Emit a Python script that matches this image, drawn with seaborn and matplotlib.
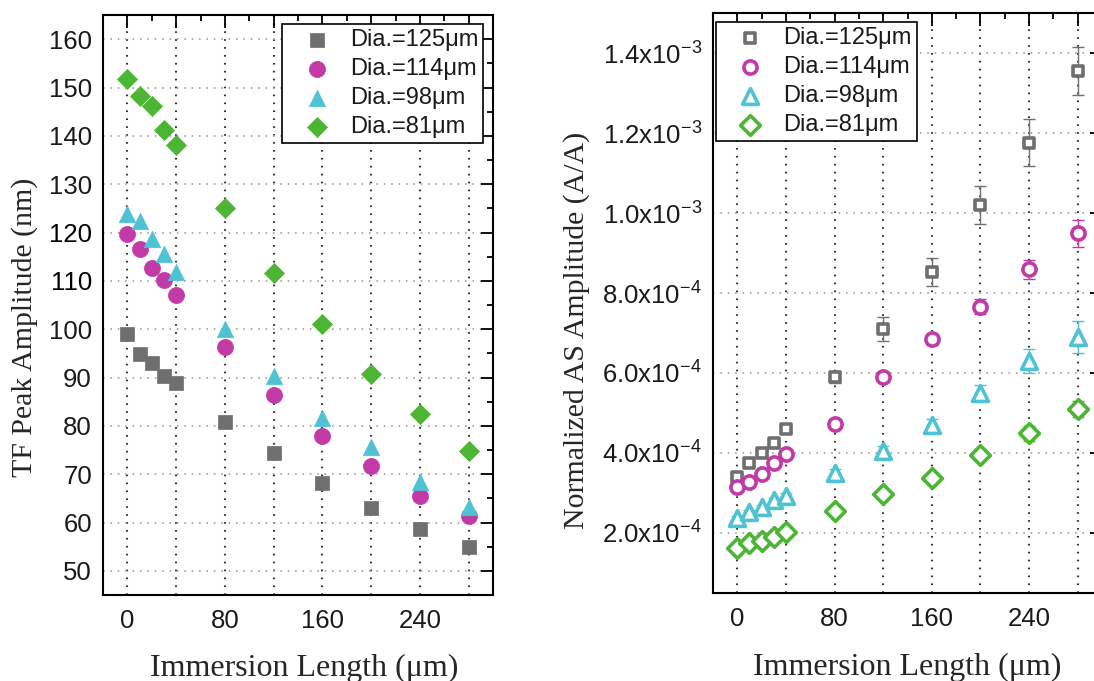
import numpy as np
import matplotlib
matplotlib.use("Agg")
import matplotlib.pyplot as plt
from matplotlib.ticker import MultipleLocator, FuncFormatter
import seaborn as sns

# Immersion lengths (µm) shared by both panels
immersion = [0, 10, 20, 30, 40, 80, 120, 160, 200, 240, 280]
series_labels = ["Dia.=125μm", "Dia.=114μm", "Dia.=98μm", "Dia.=81μm"]

# Tuning-fork peak amplitude (nm)
tf_125 = [99.0, 94.9, 93.0, 90.4, 88.9, 80.8, 74.3, 68.1, 63.1, 58.7, 55.0]
tf_114 = [119.6, 116.6, 112.7, 110.2, 107.1, 96.3, 86.3, 78.0, 71.7, 65.5, 61.4]
tf_98 = [123.8, 122.4, 118.6, 115.5, 111.8, 100.0, 90.4, 81.6, 75.6, 68.3, 63.3]
tf_81 = [151.8, 148.3, 146.1, 141.2, 138.2, 125.0, 111.7, 101.0, 90.8, 82.5, 74.8]

# Normalized AS amplitude (in units of 1e-4) and its uncertainty
AS_UNIT = 1e-4
as_125 = [3.41, 3.74, 3.99, 4.26, 4.59, 5.91, 7.10, 8.53, 10.20, 11.76, 13.56]
as_114 = [3.16, 3.28, 3.48, 3.74, 3.97, 4.73, 5.91, 6.84, 7.66, 8.59, 9.49]
as_98 = [2.37, 2.53, 2.64, 2.83, 2.93, 3.49, 4.06, 4.70, 5.49, 6.31, 6.89]
as_81 = [1.62, 1.76, 1.81, 1.91, 2.03, 2.55, 2.98, 3.38, 3.95, 4.49, 5.09]
err_125 = [0.06, 0.06, 0.07, 0.07, 0.08, 0.15, 0.30, 0.35, 0.48, 0.58, 0.60]
err_114 = [0.05, 0.05, 0.05, 0.06, 0.06, 0.10, 0.12, 0.14, 0.18, 0.23, 0.33]
err_98 = [0.05, 0.05, 0.05, 0.05, 0.06, 0.10, 0.12, 0.15, 0.20, 0.30, 0.40]
err_81 = [0.04, 0.04, 0.04, 0.05, 0.05, 0.08, 0.10, 0.12, 0.15, 0.18, 0.20]

colors = ["#6f6f6f", "#c23aa6", "#4fc3d4", "#4cb533"]
markers = ["s", "o", "^", "D"]

sns.set_style("white")
plt.rcParams["font.family"] = ["Liberation Sans", "DejaVu Sans"]
plt.rcParams["mathtext.fontset"] = "custom"
plt.rcParams["mathtext.rm"] = "Liberation Sans"
plt.rcParams["mathtext.it"] = "Liberation Sans:italic"
plt.rcParams["mathtext.bf"] = "Liberation Sans:bold"

W, H = 1094, 681
fig = plt.figure(figsize=(W / 100, H / 100), dpi=100)
fig.patch.set_facecolor("white")
ax1 = fig.add_axes([103 / W, 1 - 595 / H, 390 / W, 580 / H])
ax2 = fig.add_axes([713 / W, 1 - 593 / H, 389 / W, 580 / H])

# ---- left panel: filled markers ----
tf_series = [tf_125, tf_114, tf_98, tf_81]
left_sizes = [90, 135, 140, 105]
for vals, lab, col, mk, sz in zip(tf_series, series_labels, colors, markers, left_sizes):
    sns.scatterplot(x=immersion, y=vals, marker=mk, s=sz, color=col,
                    edgecolor=col, linewidth=0.5, label=lab, ax=ax1, zorder=3)

# ---- right panel: open markers with error bars ----
as_series = [as_125, as_114, as_98, as_81]
err_series = [err_125, err_114, err_98, err_81]
right_sizes = [60, 90, 130, 100]
for vals, errs, lab, col, mk, sz in zip(as_series, err_series, series_labels,
                                        colors, markers, right_sizes):
    y = np.array(vals) * AS_UNIT
    e = np.array(errs) * AS_UNIT
    ax2.errorbar(immersion, y, yerr=e, fmt="none", ecolor=col, elinewidth=1.0,
                 capsize=4, capthick=1.0, zorder=2)
    sns.scatterplot(x=immersion, y=y, marker=mk, s=sz, facecolor="white",
                    edgecolor=col, linewidth=2.6, label=lab, ax=ax2, zorder=3)


def x_label_fmt(v, pos):
    return f"{v:.0f}" if abs(v % 80) < 1e-6 else ""


def sci_fmt(v, pos):
    if v <= 0:
        return ""
    e = int(np.floor(np.log10(v) + 1e-9))
    m = v / 10 ** e
    return f"{m:.1f}x10$^{{{e}}}$"


for ax in (ax1, ax2):
    ax.set_xlim(-20, 300)
    ax.xaxis.set_major_locator(MultipleLocator(40))
    ax.xaxis.set_minor_locator(MultipleLocator(20))
    ax.xaxis.set_major_formatter(FuncFormatter(x_label_fmt))
    ax.tick_params(which="both", direction="in", top=True, right=True,
                   width=1.3, colors="black", labelsize=18.5)
    ax.tick_params(which="major", length=9)
    ax.tick_params(which="minor", length=4.5)
    ax.tick_params(axis="x", pad=10)
    ax.tick_params(axis="y", pad=8)
    for s in ax.spines.values():
        s.set_visible(True)
        s.set_color("black")
        s.set_linewidth(1.5)
    ax.set_axisbelow(True)
    ax.xaxis.grid(True, which="major", color="#333333", lw=1.5, ls=(0, (0.8, 3.0)))
    ax.yaxis.grid(True, which="major", color="#aaaaaa", lw=1.4, ls=(0, (0.8, 3.0)))
    for t in ax.get_xticklabels() + ax.get_yticklabels():
        t.set_color("#1a1a1a")

ax1.set_ylim(45, 165)
ax1.yaxis.set_major_locator(MultipleLocator(10))
ax1.yaxis.set_minor_locator(MultipleLocator(5))

ax2.set_ylim(0.5e-4, 1.5e-3)
ax2.yaxis.set_major_locator(MultipleLocator(2e-4))
ax2.yaxis.set_minor_locator(MultipleLocator(1e-4))
ax2.yaxis.set_major_formatter(FuncFormatter(sci_fmt))

serif = ["Liberation Serif", "DejaVu Serif"]
ax1.set_xlabel("Immersion Length (μm)", fontfamily=serif, fontsize=23)
ax2.set_xlabel("Immersion Length (μm)", fontfamily=serif, fontsize=23)
ax1.set_ylabel("TF Peak Amplitude (nm)", fontfamily=serif, fontsize=21.5)
ax2.set_ylabel("Normalized AS Amplitude (A/A)", fontfamily=serif, fontsize=21.5)
for ax, xc, yc in ((ax1, (0.515, -0.126), (-0.20, 0.462)),
                   (ax2, (0.50, -0.129), (-0.35, 0.453))):
    ax.xaxis.label.set_va("center")
    ax.yaxis.label.set_va("center")
    ax.xaxis.set_label_coords(*xc)
    ax.yaxis.set_label_coords(*yc)

leg_kw = dict(frameon=True, fancybox=False, edgecolor="black", framealpha=1,
              fontsize=17, labelspacing=0.3, handletextpad=0.15, borderpad=0.2,
              borderaxespad=0, handlelength=2.5, scatterpoints=1)
lg1 = ax1.legend(loc="upper right", bbox_to_anchor=(0.974, 0.984), **leg_kw)
lg2 = ax2.legend(loc="upper left", bbox_to_anchor=(0.008, 0.984), **leg_kw)
for lg in (lg1, lg2):
    lg.get_frame().set_linewidth(1.2)
    for t in lg.get_texts():
        t.set_color("#1a1a1a")

fig.savefig("out.png", dpi=100, facecolor="white")
